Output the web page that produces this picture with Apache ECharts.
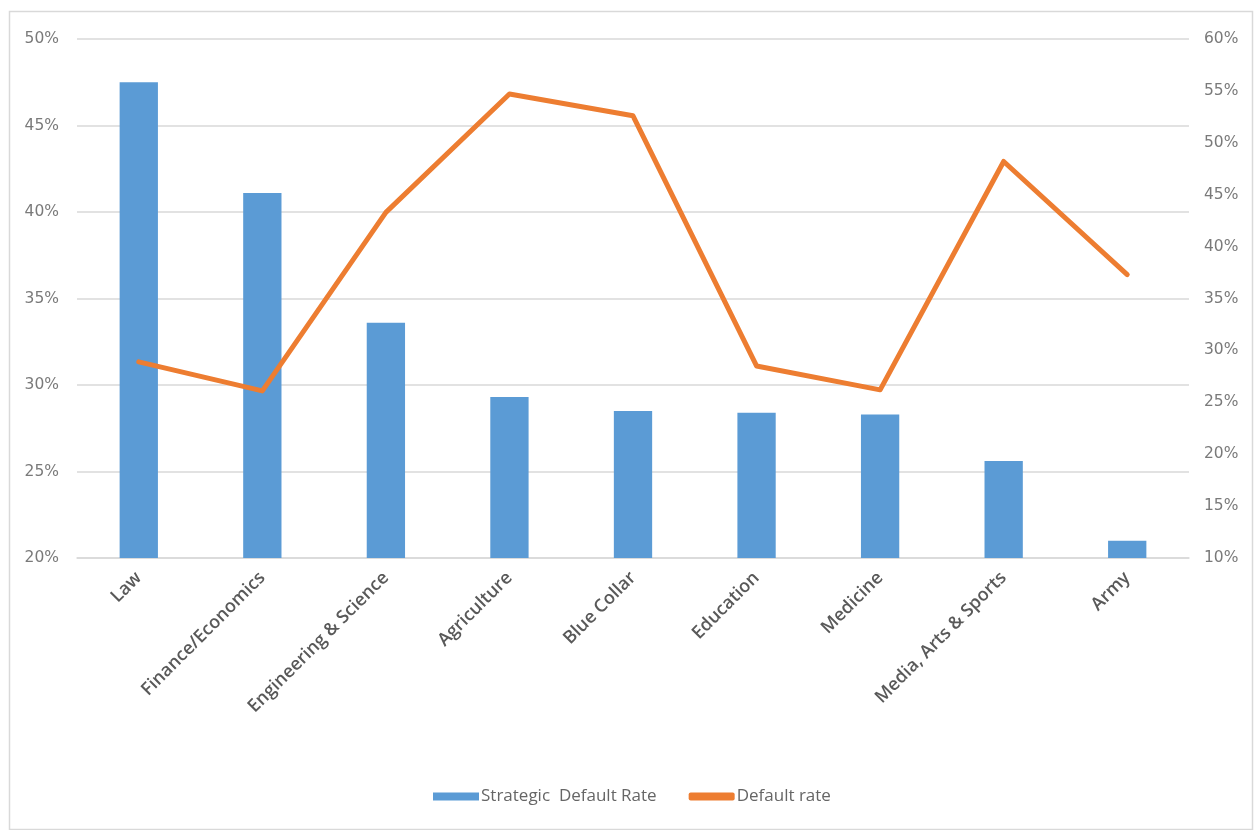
<!DOCTYPE html>
<html>
<head>
<meta charset="utf-8">
<script src="https://cdn.jsdelivr.net/npm/echarts@6/dist/echarts.min.js"></script>
<style>
html,body{margin:0;padding:0;background:#fff;}
#chart{width:1257px;height:830px;}
</style>
</head>
<body>
<div id="chart"></div>
<script>
const categories = ["Law","Finance/Economics","Engineering & Science","Agriculture","Blue Collar","Education","Medicine","Media, Arts & Sports","Army"];
const strategicDefaultRate = [47.5, 41.1, 33.6, 29.3, 28.5, 28.4, 28.3, 25.6, 21.0];
const defaultRate = [28.9, 26.1, 43.3, 54.7, 52.6, 28.5, 26.2, 48.2, 37.3];
const leftTicks = {min: 20, max: 50, interval: 5};
const rightTicks = {min: 10, max: 60, interval: 5};

const chart = echarts.init(document.getElementById('chart'), null, {renderer: 'canvas'});
const catFont = '"Open Sans", Lato, sans-serif';
const tickFont = '"DejaVu Sans", sans-serif';
chart.setOption({
  animation: false,
  backgroundColor: '#fff',
  graphic: [{
    type: 'rect', left: 7, top: 9, z: -1,
    shape: {width: 1243, height: 818},
    style: {fill: 'none', stroke: '#d9d9d9', lineWidth: 1.5}
  }],
  grid: {left: 77, right: 68, top: 39, bottom: 272},
  legend: {
    bottom: 25, left: 433, padding: 0, itemGap: 32, itemWidth: 46, itemHeight: 8,
    textStyle: {fontFamily: catFont, fontSize: 17, color: '#666666', padding: [0,0,0,-3]},
    data: [
      {name: 'Strategic  Default Rate', icon: 'rect'},
      {name: 'Default rate', icon: 'roundRect'}
    ]
  },
  xAxis: {
    type: 'category', data: categories,
    axisLine: {lineStyle: {color: '#d9d9d9', width: 1.5}},
    axisTick: {show: false},
    axisLabel: {rotate: 45, interval: 0, margin: 17, fontFamily: catFont, fontSize: 18, fontWeight: 600, color: '#595959'}
  },
  yAxis: [{
    type: 'value', min: leftTicks.min, max: leftTicks.max, interval: leftTicks.interval,
    axisLine: {show: false}, axisTick: {show: false},
    axisLabel: {formatter: '{value}%', fontFamily: tickFont, fontSize: 15.5, color: '#7a7a7a', margin: 18},
    splitLine: {lineStyle: {color: '#d9d9d9', width: 1.5}}
  }, {
    type: 'value', min: rightTicks.min, max: rightTicks.max, interval: rightTicks.interval,
    axisLine: {show: false}, axisTick: {show: false},
    axisLabel: {formatter: '{value}%', fontFamily: tickFont, fontSize: 15.5, color: '#7a7a7a', margin: 15},
    splitLine: {show: false}
  }],
  series: [{
    name: 'Strategic  Default Rate', type: 'bar', data: strategicDefaultRate,
    yAxisIndex: 0, barWidth: '31%', itemStyle: {color: '#5B9BD5'}
  }, {
    name: 'Default rate', type: 'line', data: defaultRate, yAxisIndex: 1,
    symbol: 'none', lineStyle: {color: '#ED7D31', width: 5, cap: 'round', join: 'round'},
    itemStyle: {color: '#ED7D31'}
  }]
});
</script>
</body>
</html>
